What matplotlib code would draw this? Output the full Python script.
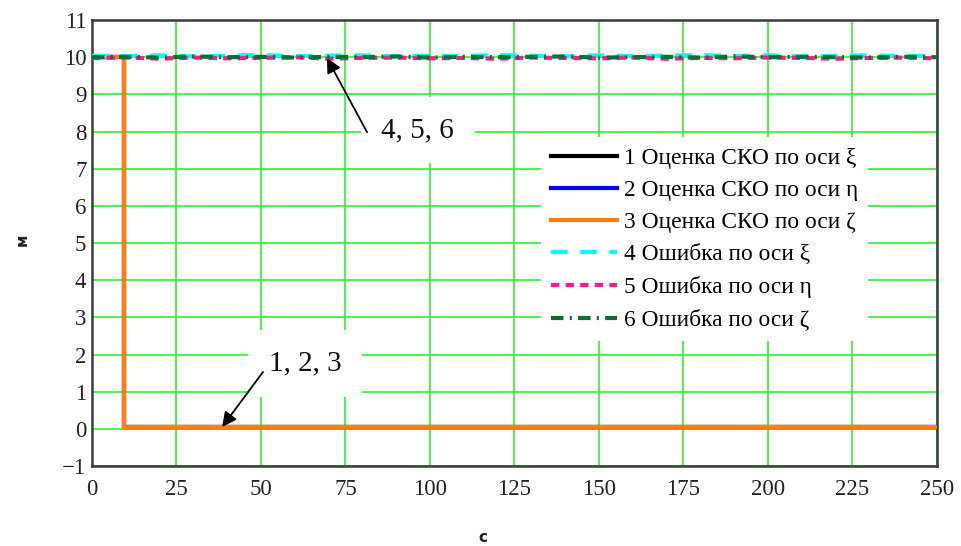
import matplotlib
matplotlib.use('Agg')
import matplotlib.pyplot as plt
import numpy as np

# время, с
t_sko = [0, 9.5, 9.5, 250]
# оценки СКО по осям (1, 2, 3)
sko_xi = [10, 10, 0.05, 0.05]
sko_eta = [10, 10, 0.05, 0.05]
sko_zeta = [10, 10, 0.05, 0.05]

t_err = list(range(0, 251, 10))
# ошибки по осям (4, 5, 6)
err_xi = [10.04, 10.03, 10.05, 10.02, 10.04, 10.06, 10.03, 10.04, 10.05, 10.02,
          10.04, 10.03, 10.06, 10.04, 10.02, 10.05, 10.03, 10.04, 10.06, 10.03,
          10.05, 10.02, 10.04, 10.05, 10.03, 10.04]
err_eta = [9.98, 9.99, 9.96, 9.99, 9.97, 9.98, 10.00, 9.96, 9.98, 9.99,
           9.97, 9.98, 9.96, 9.99, 9.98, 9.97, 9.99, 9.96, 9.98, 9.97,
           9.99, 9.98, 9.96, 9.98, 9.99, 9.97]
err_zeta = [10.00, 10.01, 9.99, 10.02, 10.00, 10.01, 9.99, 10.01, 10.00, 10.02,
            9.99, 10.01, 10.00, 10.01, 10.02, 9.99, 10.00, 10.01, 9.99, 10.02,
            10.00, 10.01, 10.00, 9.99, 10.01, 10.00]

labels = ['1 Оценка СКО по оси ξ', '2 Оценка СКО по оси η', '3 Оценка СКО по оси ζ',
          '4 Ошибка по оси ξ', '5 Ошибка по оси η', '6 Ошибка по оси ζ']

x_ticks = list(range(0, 251, 25))
y_ticks = list(range(-1, 12))

serif = 'Liberation Serif'

fig = plt.figure(figsize=(9.62, 5.46), dpi=100)
ax = fig.add_axes([0.0956, 0.1465, 0.8784, 0.8168])

ax.plot(t_sko, sko_xi, color='black', lw=3, label=labels[0], zorder=3)
ax.plot(t_sko, sko_eta, color='#0000ff', lw=3, label=labels[1], zorder=3)
ax.plot(t_sko, sko_zeta, color='#ff7f0e', lw=3, label=labels[2], zorder=3,
        solid_joinstyle='miter')
ax.plot(t_err, err_xi, color='#00ffff', lw=3, ls=(0, (4, 3)), label=labels[3], zorder=4)
ax.plot(t_err, err_eta, color='#ff1a8c', lw=3, ls=(0, (2, 1.5)), label=labels[4], zorder=4)
ax.plot(t_err, err_zeta, color='#0b6e35', lw=3, ls=(0, (3, 1.5, 0.5, 1.5)), label=labels[5], zorder=4)

ax.set_xlim(0, 250)
ax.set_ylim(-1, 11)
ax.set_xticks(x_ticks)
ax.set_yticks(y_ticks)
ax.grid(True, color='#33ee33', lw=1.2, zorder=0)
ax.set_axisbelow(True)
ax.tick_params(length=0, labelsize=16.5, colors='#222222')
ax.tick_params(axis='x', pad=9)
ax.tick_params(axis='y', pad=4)
for lab in ax.get_xticklabels() + ax.get_yticklabels():
    lab.set_fontfamily(serif)
for sp in ax.spines.values():
    sp.set_color('#3a3a3a')
    sp.set_linewidth(1.8)

leg = ax.legend(loc='upper left', bbox_to_anchor=(0.531, 0.737),
                prop={'family': serif, 'size': 16.8}, frameon=True,
                facecolor='white', edgecolor='none', framealpha=1,
                fancybox=False, handlelength=2.8, handletextpad=0.3,
                labelspacing=0.46, borderpad=0.45, borderaxespad=0)

# подписи групп кривых
box = dict(boxstyle='square,pad=0.7', fc='white', ec='none')
ax.text(96.4, 8.04, '4, 5, 6', fontsize=21, family=serif, ha='center', va='center',
        bbox=box, zorder=5, color='#111111')
ax.text(63, 1.75, '1, 2, 3', fontsize=21, family=serif, ha='center', va='center',
        bbox=box, zorder=5, color='#111111')

arrow = dict(arrowstyle='-|>', color='black', lw=1.3, mutation_scale=22,
             shrinkA=0, shrinkB=0)
ax.annotate('', xy=(69.5, 9.98), xytext=(81.4, 7.98), arrowprops=arrow, zorder=6)
ax.annotate('', xy=(38.5, 0.05), xytext=(50.6, 1.53), arrowprops=arrow, zorder=6)

fig.text(0.023, 0.56, 'м', rotation=90, fontsize=11, fontweight='bold',
         ha='center', va='center', color='#222222')
fig.text(0.502, 0.015, 'с', fontsize=11, fontweight='bold',
         ha='center', va='center', color='#222222')

fig.savefig('out.png', dpi=100)
